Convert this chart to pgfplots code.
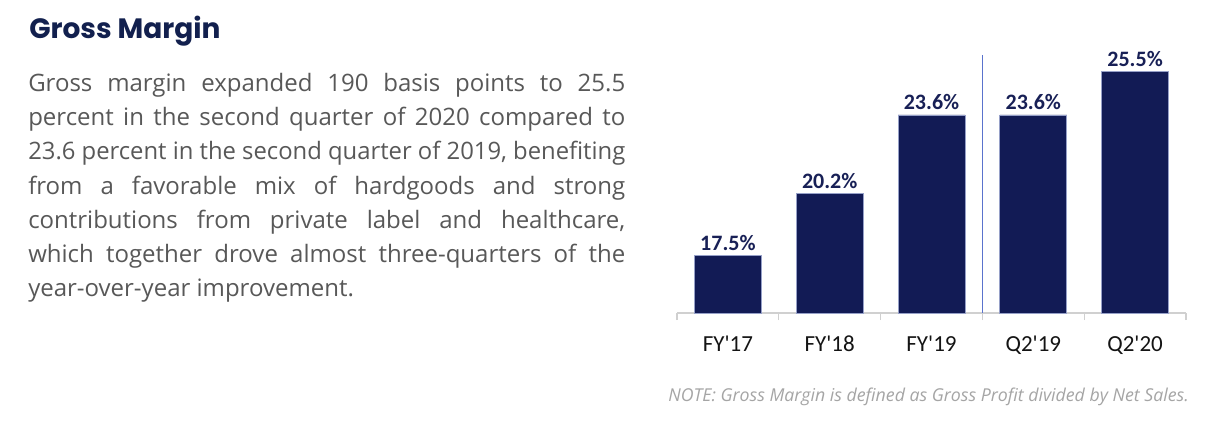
\documentclass[border=0pt]{standalone}
\usepackage{fontspec}
\setmainfont{Open Sans}
\newfontfamily\calibri{Carlito}
\newfontfamily\titlefont{Poppins}
\usepackage{pgfplots}
\pgfplotsset{compat=1.18}
\usepackage{graphicx}
\definecolor{titlenavy}{RGB}{18,32,78}
\definecolor{paragray}{RGB}{88,88,88}
\definecolor{barnavy}{RGB}{18,27,85}
\definecolor{baredge}{RGB}{150,160,200}
\definecolor{labelnavy}{RGB}{24,32,86}
\definecolor{ticktext}{RGB}{20,20,20}
\definecolor{notegray}{RGB}{165,165,165}
\definecolor{axisgray}{RGB}{208,208,208}
\definecolor{vlineblue}{RGB}{90,115,205}
\newcommand\sq{\XeTeXglyph\XeTeXcharglyph"0027\relax}
\newsavebox\lbox
\newcommand\fitline[1]{\sbox\lbox{#1}\ifdim\wd\lbox>447.75pt\relax\resizebox{447.75pt}{\height}{\usebox\lbox}\else\makebox[447.75pt][s]{#1}\fi}
\newcommand\jline[2]{\node[anchor=base west, inner sep=0pt, text=paragray, font=\fontsize{18}{22}\selectfont] at (21pt,#1) {\fitline{#2}};}
\pgfplotstableread{
x y
0 17.5
1 20.2
2 23.6
3 23.6
4 25.5
}\gm
\begin{document}
\begin{tikzpicture}
\path[fill=white,use as bounding box] (0,0) rectangle (922.5pt,318pt);
\node[anchor=base west, inner sep=0pt, text=titlenavy, font=\titlefont\fontsize{21}{26}\selectfont\bfseries] at (21.75pt,288.75pt) {Gross Margin};
\jline{249.375pt}{Gross margin expanded 190 basis points to 25.5}
\jline{223.6875pt}{percent in the second quarter of 2020 compared to}
\jline{198pt}{23.6 percent in the second quarter of 2019, benefiting}
\jline{172.3125pt}{from a favorable mix of hardgoods and strong}
\jline{146.625pt}{contributions from private label and healthcare,}
\jline{120.9375pt}{which together drove almost three-quarters of the}
\node[anchor=base west, inner sep=0pt, text=paragray, font=\fontsize{18}{22}\selectfont] at (21pt,95.25pt) {year-over-year improvement.};
\node[anchor=base east, inner sep=0pt, text=notegray, font=\fontsize{13.3}{16}\selectfont\itshape] at (891.75pt,16.5pt) {NOTE: Gross Margin is defined as Gross Profit divided by Net Sales.};
\begin{axis}[
  at={(507.75pt,83.25pt)}, anchor=south west,
  width=381.75pt, height=193.5pt, scale only axis,
  xmin=-0.5, xmax=4.5, ymin=15, ymax=26.2,
  axis y line=none, axis x line=bottom,
  x axis line style={-, draw=axisgray, line width=0.8pt},
  xtick={0,1,2,3,4},
  xticklabels={FY\sq17,FY\sq18,FY\sq19,Q2\sq19,Q2\sq20},
  minor xtick={-0.5,0.5,1.5,2.5,3.5,4.5},
  major tick length=0pt, minor tick length=5.25pt,
  tick align=outside,
  minor tick style={draw=axisgray, line width=0.8pt},
  xticklabel style={font=\calibri\fontsize{17.25}{20}\selectfont, text=ticktext, anchor=base, yshift=-29.25pt},
  clip=false,
]
\addplot[ybar, bar width=50.25pt, fill=barnavy, draw=baredge, line width=0.5pt,
  nodes near coords={\calibri\bfseries\fontsize{16.5}{20}\selectfont\pgfmathprintnumber[fixed,fixed zerofill,precision=1,assume math mode=true]{\pgfplotspointmeta}\%},
  nodes near coords style={anchor=base, yshift=3.75pt, text=labelnavy, inner sep=0pt},
  point meta=y] table[x=x,y=y] {\gm};
\draw[vlineblue, line width=0.8pt] (axis cs:2.5,15) -- (axis cs:2.5,26.2);
\end{axis}
\end{tikzpicture}
\end{document}
